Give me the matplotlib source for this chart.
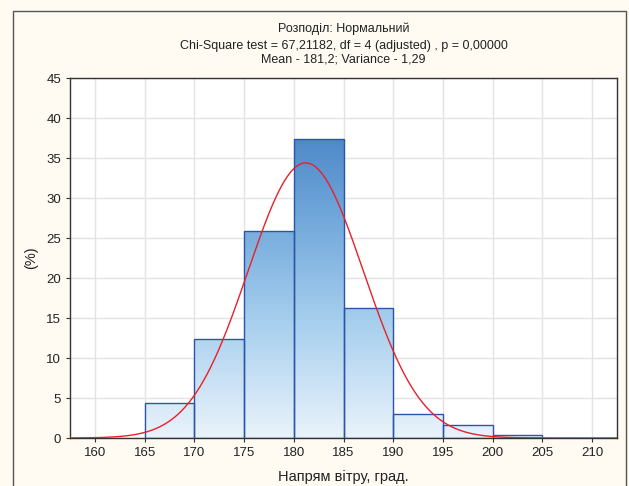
import numpy as np
import matplotlib
matplotlib.use("Agg")
import matplotlib.pyplot as plt
from matplotlib.colors import LinearSegmentedColormap
from matplotlib.patches import Rectangle

plt.rcParams['font.family'] = ['Liberation Sans', 'DejaVu Sans']

bin_edges = [165, 170, 175, 180, 185, 190, 195, 200, 205]
percents = [4.4, 12.4, 25.9, 37.4, 16.2, 3.0, 1.6, 0.4]
fit_mean = 181.2
fit_sd = 5.8
bin_width = 5
x_ticks = [160, 165, 170, 175, 180, 185, 190, 195, 200, 205, 210]
y_ticks = [0, 5, 10, 15, 20, 25, 30, 35, 40, 45]
title_lines = ["Розподіл: Нормальний",
               "Chi-Square test = 67,21182, df = 4 (adjusted) , p = 0,00000",
               "Mean - 181,2; Variance - 1,29"]
xlabel = "Напрям вітру, град."
ylabel = "(%)"

W, H = 629, 486
fig = plt.figure(figsize=(W / 100, H / 100), dpi=100)
fig.patch.set_facecolor('#fffaf2')

# outer frame
fig.patches.append(Rectangle((12.5 / W, -0.1), (626 - 12.5) / W, 1.1 - 10.5 / H,
                             transform=fig.transFigure, fill=False,
                             edgecolor='#555555', linewidth=1.0))

ax = fig.add_axes([70 / W, (H - 438) / H, (617 - 70) / W, (438 - 78) / H])
ax.set_facecolor('white')
ax.set_xlim(157.5, 212.5)
ax.set_ylim(0, 45)
ax.set_xticks(x_ticks)
ax.set_yticks(y_ticks)
ax.grid(True, color='#e3e3e3', linewidth=1.0)
ax.set_axisbelow(True)

cmap = LinearSegmentedColormap.from_list('g', ['#eaf3fb', '#a9d0ee', '#6fa6da', '#3f7bbf'])
grad = np.linspace(0, 1, 256).reshape(-1, 1)

for i, p in enumerate(percents):
    x0 = bin_edges[i]
    rect = Rectangle((x0, 0), bin_width, p, facecolor='none',
                     edgecolor='#2b55a8', linewidth=1.0, zorder=3)
    ax.add_patch(rect)
    im = ax.imshow(grad, cmap=cmap, extent=(157.5, 212.5, 0, 42), origin='lower',
                   aspect='auto', zorder=2, vmin=0, vmax=1)
    im.set_clip_path(rect)

ax.set_xlim(157.5, 212.5)
ax.set_ylim(0, 45)

xs = np.linspace(157.5, 212.5, 600)
ys = 100 * bin_width * np.exp(-0.5 * ((xs - fit_mean) / fit_sd) ** 2) / (fit_sd * np.sqrt(2 * np.pi))
ax.plot(xs, ys, color='#e8202a', linewidth=1.0, zorder=4)

for s in ax.spines.values():
    s.set_color('#333333')
    s.set_linewidth(1.0)
ax.tick_params(axis='both', labelsize=9.5, colors='#333333', length=3, labelcolor='#222222')

ax.set_xlabel(xlabel, fontsize=10.5, color='#222222', labelpad=8)
ax.set_ylabel(ylabel, fontsize=10.5, color='#222222', labelpad=6)

fig.text(0.5 * (70 + 617) / W, 1 - 29 / H, title_lines[0], ha='center', va='center', fontsize=9, color='#222222')
fig.text(0.5 * (70 + 617) / W, 1 - 46.5 / H, title_lines[1], ha='center', va='center', fontsize=9, color='#222222')
fig.text(0.5 * (70 + 617) / W, 1 - 59 / H, title_lines[2], ha='center', va='center', fontsize=9, color='#222222')

fig.savefig('out.png', dpi=100, facecolor=fig.get_facecolor())
